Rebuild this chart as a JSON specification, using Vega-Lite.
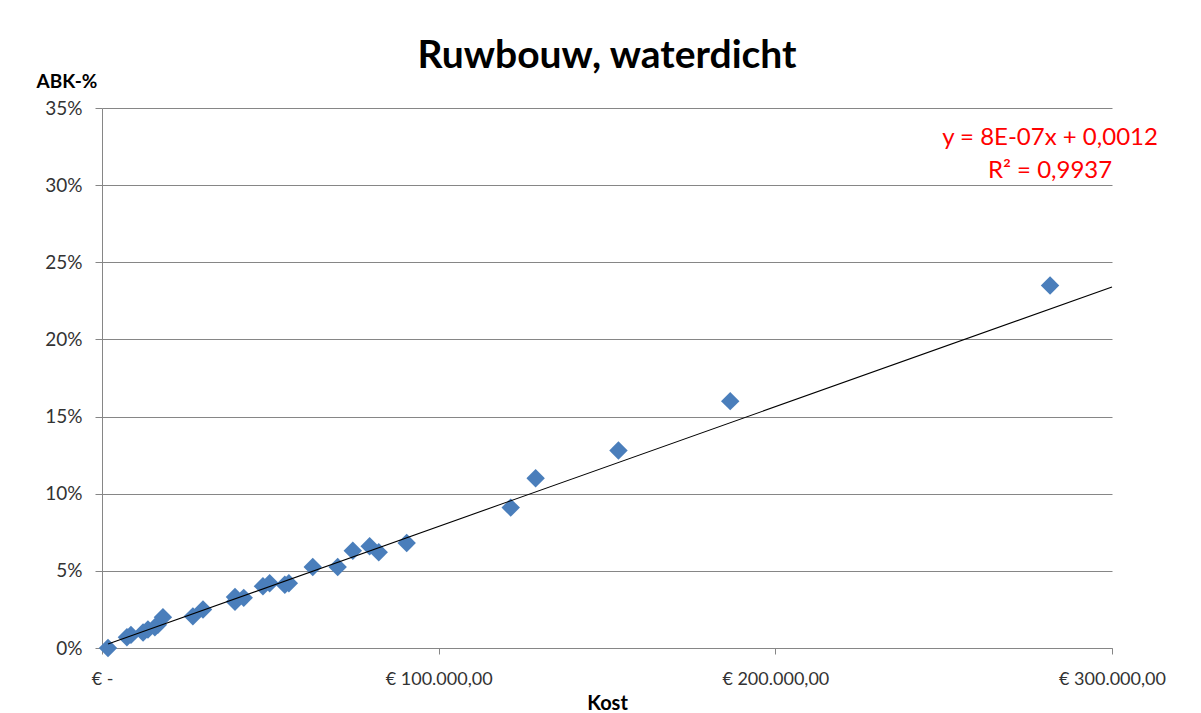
{
  "$schema": "https://vega.github.io/schema/vega-lite/v6.json",
  "width": 1010,
  "height": 540,
  "autosize": {"type": "none"},
  "padding": {"left": 102, "top": 108, "right": 89, "bottom": 65},
  "background": "white",
  "title": {
    "text": "Ruwbouw, waterdicht",
    "font": "Lato",
    "fontSize": 39,
    "fontWeight": "bold",
    "color": "#000000",
    "anchor": "middle",
    "baseline": "alphabetic",
    "offset": -35
  },
  "config": {
    "view": {"stroke": null},
    "font": "Lato"
  },
  "data": {
    "values": [
      {"kost": 1780, "abk": 0.0000},
      {"kost": 7400, "abk": 0.0070},
      {"kost": 8600, "abk": 0.0085},
      {"kost": 12200, "abk": 0.0100},
      {"kost": 13650, "abk": 0.0120},
      {"kost": 15700, "abk": 0.0135},
      {"kost": 16600, "abk": 0.0150},
      {"kost": 18100, "abk": 0.0200},
      {"kost": 27000, "abk": 0.0205},
      {"kost": 30000, "abk": 0.0250},
      {"kost": 39500, "abk": 0.0300},
      {"kost": 39500, "abk": 0.0330},
      {"kost": 42100, "abk": 0.0325},
      {"kost": 47800, "abk": 0.0400},
      {"kost": 49800, "abk": 0.0420},
      {"kost": 54300, "abk": 0.0410},
      {"kost": 55500, "abk": 0.0420},
      {"kost": 62600, "abk": 0.0525},
      {"kost": 70000, "abk": 0.0525},
      {"kost": 74500, "abk": 0.0630},
      {"kost": 79500, "abk": 0.0660},
      {"kost": 82200, "abk": 0.0620},
      {"kost": 90500, "abk": 0.0680},
      {"kost": 121400, "abk": 0.0910},
      {"kost": 128800, "abk": 0.1100},
      {"kost": 153400, "abk": 0.1280},
      {"kost": 186600, "abk": 0.1600},
      {"kost": 281600, "abk": 0.2350}
    ]
  },
  "encoding": {
    "x": {
      "field": "kost",
      "type": "quantitative",
      "scale": {"domain": [0, 300000], "nice": false, "zero": true},
      "axis": {
        "values": [0, 100000, 200000, 300000],
        "labelExpr": "datum.value == 0 ? '€ -' : '€ ' + format(datum.value / 1000, 'd') + '.000,00'",
        "grid": false,
        "domainColor": "#868686",
        "domainWidth": 1,
        "tickColor": "#868686",
        "tickSize": 6,
        "labelFont": "Lato",
        "labelFontSize": 18,
        "labelColor": "#333333",
        "labelPadding": 16,
        "labelFlush": false,
        "title": "Kost",
        "titleFont": "Lato",
        "titleFontSize": 20,
        "titleFontWeight": "bold",
        "titleColor": "#000000",
        "titleX": 505,
        "titleY": 61,
        "titleBaseline": "alphabetic"
      }
    },
    "y": {
      "field": "abk",
      "type": "quantitative",
      "scale": {"domain": [0, 0.35], "nice": false},
      "axis": {
        "values": [0, 0.05, 0.1, 0.15, 0.2, 0.25, 0.3, 0.35],
        "format": ".0%",
        "grid": true,
        "gridColor": "#868686",
        "gridWidth": 1,
        "domainColor": "#868686",
        "domainWidth": 1,
        "tickColor": "#868686",
        "tickSize": 7,
        "labelFont": "Lato",
        "labelFontSize": 19,
        "labelColor": "#333333",
        "labelPadding": 13,
        "title": "ABK-%",
        "titleFont": "Lato",
        "titleFontSize": 19,
        "titleFontWeight": "bold",
        "titleColor": "#000000",
        "titleAngle": 0,
        "titleAlign": "left",
        "titleBaseline": "alphabetic",
        "titleX": -66,
        "titleY": -21
      }
    }
  },
  "layer": [
    {
      "mark": {"type": "point", "shape": "diamond", "filled": true, "size": 340, "color": "#4A7EBB", "opacity": 1}
    },
    {
      "data": {
        "values": [
          {"kost": 1780, "abk": 0.0026},
          {"kost": 300000, "abk": 0.2340}
        ]
      },
      "mark": {"type": "line", "color": "#000000", "strokeWidth": 1.1}
    },
    {
      "data": {
        "values": [
          {"lx": 281600, "ly": 0.326, "label": "y = 8E-07x + 0,0012"},
          {"lx": 281600, "ly": 0.3046, "label": "R² = 0,9937"}
        ]
      },
      "mark": {"type": "text", "font": "Lato", "fontSize": 24, "color": "#FF0000", "align": "center", "baseline": "alphabetic"},
      "encoding": {
        "x": {"field": "lx", "type": "quantitative"},
        "y": {"field": "ly", "type": "quantitative"},
        "text": {"field": "label"}
      }
    }
  ]
}
